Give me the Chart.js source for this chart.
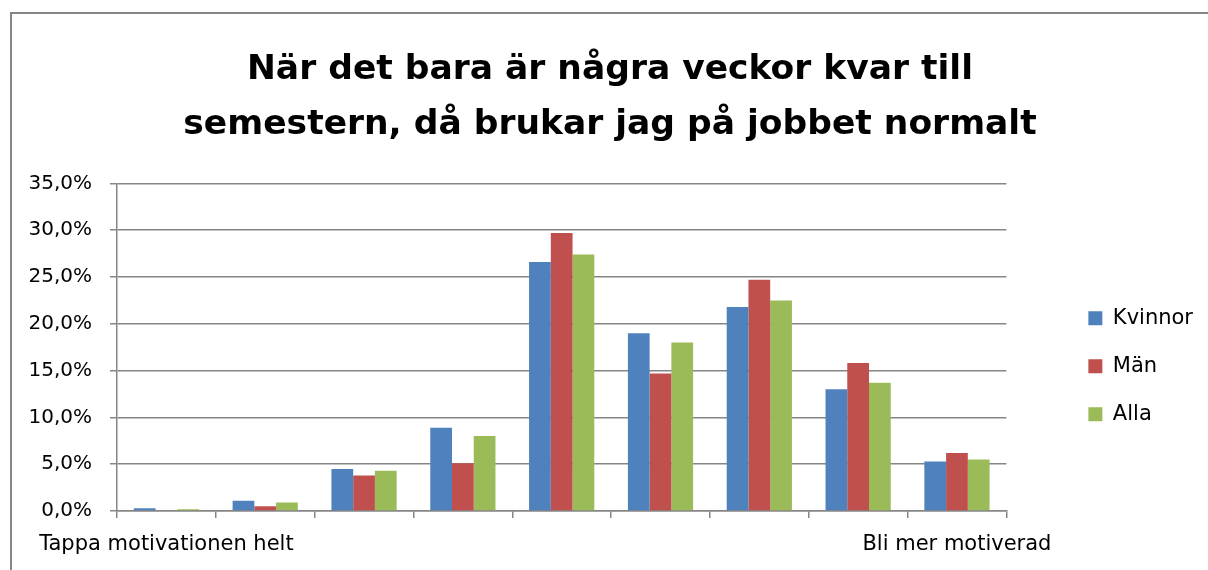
<!DOCTYPE html>
<html>
<head>
<meta charset="utf-8">
<script src="https://cdn.jsdelivr.net/npm/chart.js@4"></script>
<style>
html,body{margin:0;padding:0;background:#fff;}
canvas{display:block;}
</style>
</head>
<body>
<canvas id="c" width="1208" height="570"></canvas>
<script>
const categories = ['Tappa motivationen helt', '', '', '', '', '', '', '', 'Bli mer motiverad'];
const kvinnor = [0.3, 1.1, 4.5, 8.9, 26.6, 19.0, 21.8, 13.0, 5.3];
const man = [0.0, 0.5, 3.8, 5.1, 29.7, 14.7, 24.7, 15.8, 6.2];
const alla = [0.2, 0.9, 4.3, 8.0, 27.4, 18.0, 22.5, 13.7, 5.5];
const seriesNames = ['Kvinnor', 'Män', 'Alla'];
const titleLines = ['När det bara är några veckor kvar till', 'semestern, då brukar jag på jobbet normalt'];

const FONT = "'DejaVu Sans', sans-serif";
const GRID = '#868686';

const borderPlugin = {
  id: 'outerBorder',
  beforeDraw(chart) {
    const ctx = chart.ctx;
    ctx.save();
    ctx.fillStyle = '#fff';
    ctx.fillRect(0, 0, chart.width, chart.height);
    ctx.strokeStyle = GRID;
    ctx.lineWidth = 2;
    ctx.strokeRect(11, 13, chart.width + 20, chart.height + 20);
    ctx.restore();
  }
};

new Chart(document.getElementById('c'), {
  type: 'bar',
  data: {
    labels: categories,
    datasets: [
      { label: seriesNames[0], data: kvinnor, backgroundColor: '#4F81BD' },
      { label: seriesNames[1], data: man, backgroundColor: '#C0504D' },
      { label: seriesNames[2], data: alla, backgroundColor: '#9BBB59' }
    ]
  },
  options: {
    responsive: false,
    animation: false,
    devicePixelRatio: 1,
    layout: { padding: { left: 17, right: 5, top: 0, bottom: 0 } },
    datasets: { bar: { categoryPercentage: 0.66, barPercentage: 1.0 } },
    plugins: {
      title: {
        display: true,
        text: titleLines,
        color: '#000',
        font: { family: FONT, size: 34.5, weight: 'bold', lineHeight: 1.6 },
        padding: { top: 42, bottom: 31 }
      },
      legend: {
        position: 'right',
        fullSize: false,
        title: { display: true, text: '', font: { size: 1 }, padding: { top: 37, bottom: 0 } },
        labels: {
          boxWidth: 14,
          boxHeight: 14,
          padding: 27,
          color: '#000',
          font: { family: FONT, size: 21 }
        }
      },
      tooltip: { enabled: false }
    },
    scales: {
      x: {
        offset: true,
        grid: { display: true, drawOnChartArea: false, drawTicks: true, tickLength: 7, offset: true, color: GRID, lineWidth: 1.5 },
        border: { display: true, color: GRID, width: 1.5 },
        ticks: { autoSkip: false, maxRotation: 0, minRotation: 0, padding: 14, color: '#000', font: { family: FONT, size: 21 } },
        afterFit(s) { s.height = 59; }
      },
      y: {
        min: 0,
        max: 35,
        ticks: {
          stepSize: 5,
          padding: 18,
          color: '#000',
          font: { family: FONT, size: 20 },
          callback: v => v.toFixed(1).replace('.', ',') + '%'
        },
        grid: { color: GRID, lineWidth: 1.5, tickLength: 7, drawTicks: true },
        border: { display: true, color: GRID, width: 1.5 },
        afterFit(s) { s.width = 100; }
      },
      yR: {
        position: 'right',
        display: true,
        grid: { display: false, drawTicks: false },
        ticks: { display: false },
        border: { display: false },
        afterFit(s) { s.width = 55; }
      }
    }
  },
  plugins: [borderPlugin]
});
</script>
</body>
</html>
